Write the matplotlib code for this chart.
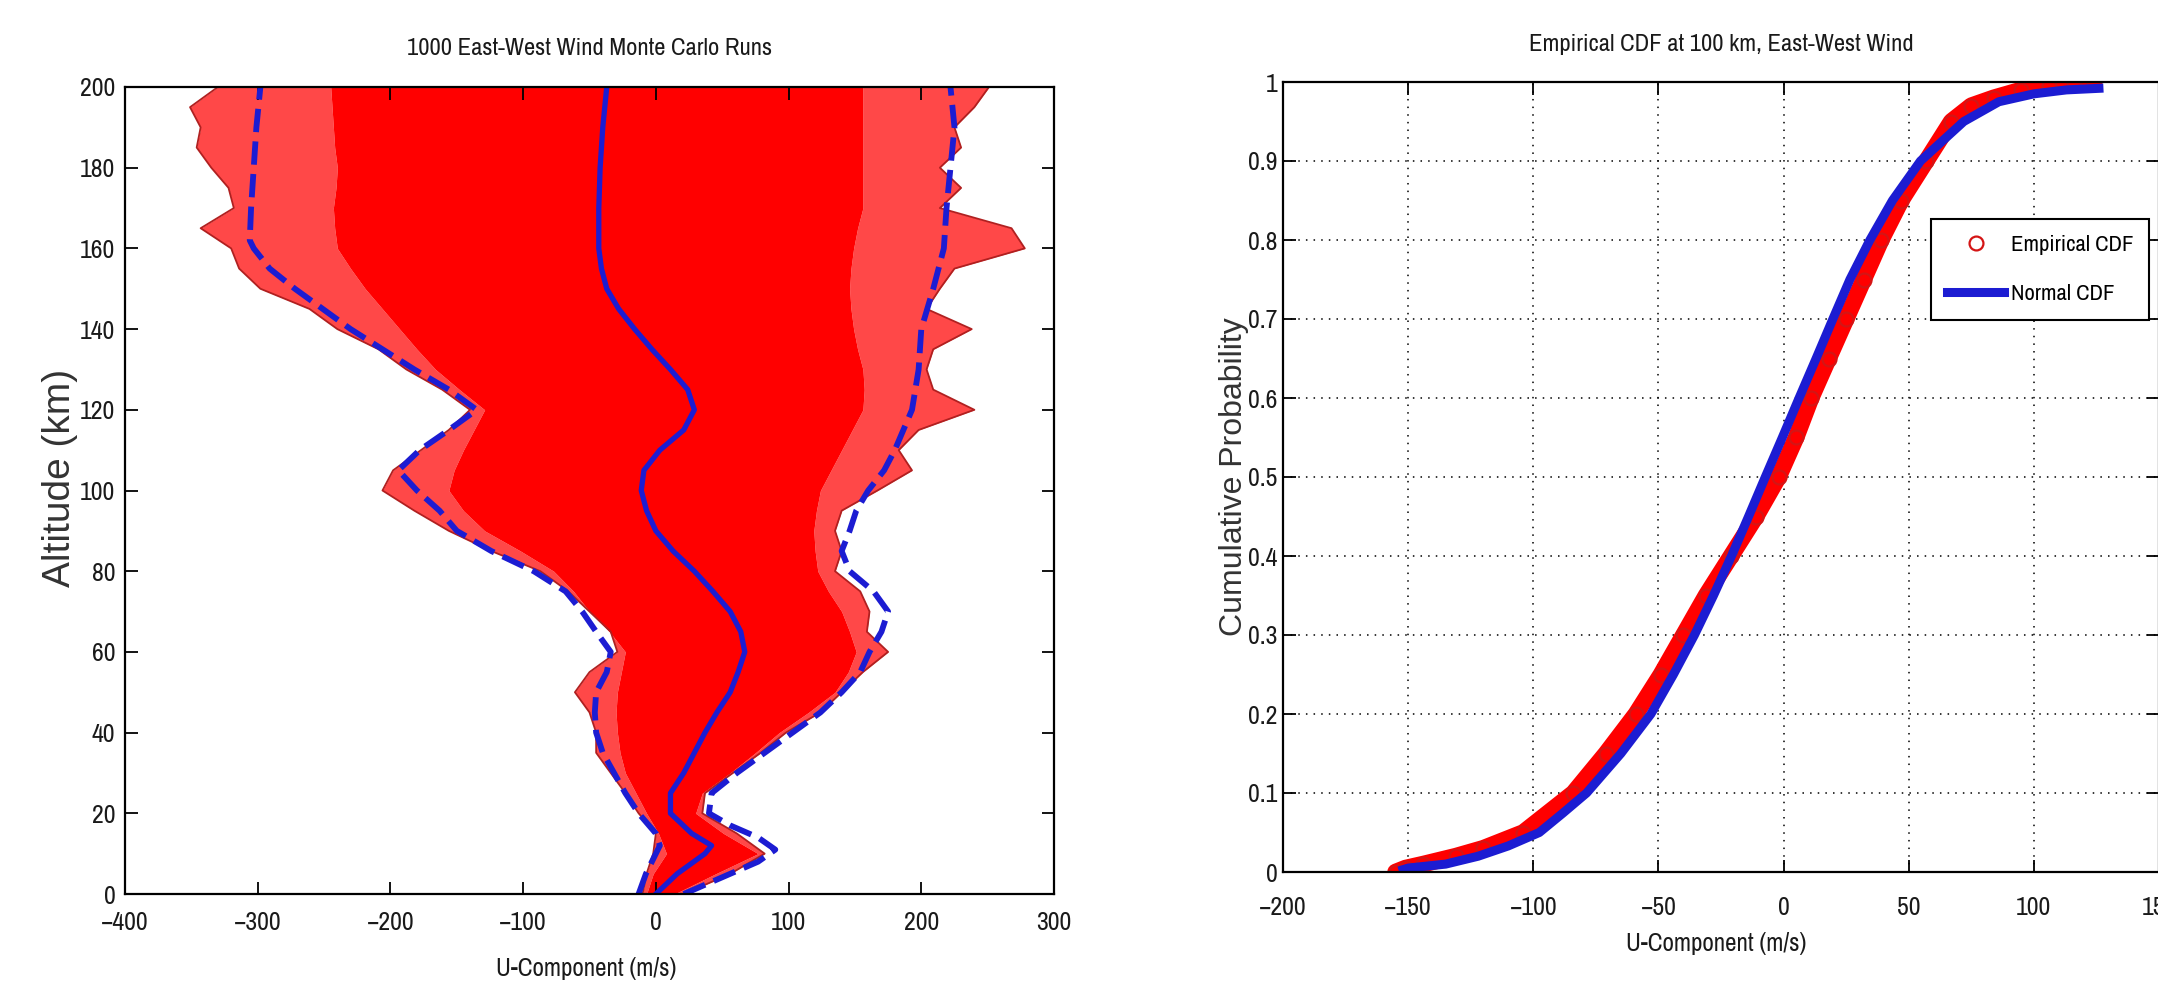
import numpy as np
import matplotlib.pyplot as plt
from matplotlib import font_manager as fm
from matplotlib.lines import Line2D

# pick a narrow sans face if one is installed (the reference uses a condensed Helvetica)
fonts = fm.fontManager.ttflist
narrow = [f.name for f in fonts if "Narrow" in f.name or "Condensed" in f.name]
cond = [f.name for f in fonts if str(f.stretch) in ("condensed", "semi-condensed")]
if narrow:
    NARROW, STRETCH = [narrow[0], "DejaVu Sans"], "normal"
elif cond:
    NARROW, STRETCH = [cond[0], "DejaVu Sans"], "condensed"
else:
    NARROW, STRETCH = ["Liberation Sans", "DejaVu Sans"], "normal"
WIDE = ["Liberation Sans", "DejaVu Sans"]
plt.rcParams["font.family"] = NARROW
plt.rcParams["font.stretch"] = STRETCH

# ---- left panel: 1000 Monte Carlo wind profiles ----
alt_env = np.arange(0, 205, 5)
ext_lo = [-10, -7, -2, 0, -13, -23, -34, -45, -45, -50, -61, -50, -29, -34, -50, -66, -87,
          -124, -156, -182, -206, -198, -177, -156, -140, -161, -188, -209, -240, -261, -298,
          -314, -320, -343, -318, -322, -335, -346, -343, -351, -330]
core_lo = [-7, -2, 8, 2, -7, -15, -23, -27, -29, -30, -29, -26, -23, -35, -50, -62, -77,
           -102, -129, -145, -156, -152, -145, -137, -129, -148, -166, -180, -193, -206, -219,
           -230, -240, -242, -243, -241, -240, -242, -243, -244, -245]
core_hi = [14, 45, 77, 51, 30, 35, 56, 75, 93, 115, 135, 145, 151, 146, 140, 130, 122,
           120, 119, 121, 124, 132, 140, 148, 156, 157, 156, 152, 149, 147, 146, 147, 149,
           152, 156, 156, 156, 156, 156, 156, 156]
ext_hi = [21, 56, 82, 61, 35, 37, 58, 79, 98, 124, 140, 156, 175, 159, 161, 154, 135,
          140, 135, 140, 167, 193, 183, 198, 240, 209, 204, 209, 238, 204, 214, 225, 278,
          268, 214, 230, 214, 230, 225, 240, 251]

mean_alt = [0, 5, 10, 12, 15, 20, 25, 30, 35, 40, 45, 50, 55, 60, 65, 70, 75, 80, 85, 90,
            95, 100, 105, 110, 115, 120, 125, 130, 135, 140, 145, 150, 155, 160, 170, 180,
            190, 200]
mean_u = [0, 16, 37, 42, 27, 11, 11, 21, 29, 37, 46, 56, 62, 67, 64, 56, 43, 29, 13, 0,
          -7, -11, -9, 3, 21, 29, 24, 11, -3, -16, -28, -37, -41, -43, -43, -42, -40, -37]

lo_alt = [0, 5, 10, 12, 15, 20, 25, 30, 35, 40, 45, 50, 55, 60, 65, 70, 75, 80, 85, 90,
          95, 100, 105, 110, 115, 120, 125, 130, 140, 150, 155, 160, 162, 170, 180, 190, 200]
lo_u = [-13, -7.5, 0, 3, 0, -13, -23, -31.5, -40, -45, -46, -45, -37, -34, -45, -55.5, -68,
        -92, -124, -150, -163, -180, -194, -178, -156, -135, -156, -182, -230, -272, -291,
        -303, -306, -305, -303, -301, -298]

hi_alt = [0, 2, 5, 8, 11, 14, 17, 20, 25, 30, 35, 40, 45, 50, 55, 60, 65, 70, 75, 80, 85,
          90, 95, 100, 105, 110, 120, 130, 140, 150, 160, 170, 180, 190, 200]
hi_u = [21, 35, 56, 77, 90, 77, 56, 40, 42, 61, 82, 103, 124, 140, 154, 161, 170, 175, 164,
        146, 140, 146, 151, 160, 172, 180, 193, 198, 200, 209, 217, 219, 222, 225, 222]

# ---- right panel: CDF at 100 km ----
emp_u = [-155, -151, -144, -131, -120, -104, -84, -71, -59, -49, -40, -31, -21, -11, -2,
         5, 11, 18, 25, 32, 39, 47, 57, 67, 75, 84, 95, 106, 116, 124]
emp_p = [0.0, 0.005, 0.01, 0.02, 0.03, 0.05, 0.1, 0.15, 0.2, 0.25, 0.3, 0.35, 0.4, 0.45,
         0.5, 0.55, 0.6, 0.65, 0.7, 0.75, 0.8, 0.85, 0.9, 0.95, 0.97, 0.98, 0.99, 0.995,
         1.0, 1.0]
norm_u = [-152, -150, -135, -122, -110, -97.6, -88, -78.7, -65, -53, -44, -35.6, -28, -20.8,
          -14, -7.3, -0.5, 6.2, 13, 19.7, 26.5, 34.5, 43.5, 54.7, 72, 86, 100, 113, 126]
norm_p = [0.003, 0.005, 0.01, 0.02, 0.033, 0.05, 0.075, 0.1, 0.15, 0.2, 0.25, 0.3, 0.35, 0.4,
          0.45, 0.5, 0.55, 0.6, 0.65, 0.7, 0.75, 0.8, 0.85, 0.9, 0.95, 0.975, 0.985, 0.99,
          0.992]

left_xticks = [-400, -300, -200, -100, 0, 100, 200, 300]
left_yticks = [0, 20, 40, 60, 80, 100, 120, 140, 160, 180, 200]
right_xticks = [-200, -150, -100, -50, 0, 50, 100, 150]
right_yticks = [0, 0.1, 0.2, 0.3, 0.4, 0.5, 0.6, 0.7, 0.8, 0.9, 1]
right_ylabels = ["0", "0.1", "0.2", "0.3", "0.4", "0.5", "0.6", "0.7", "0.8", "0.9", "1"]

BLUE = "#1c1cd2"
TXT = "#1a1a1a"
W, H = 2158, 982

fig = plt.figure(figsize=(W / 100, H / 100), dpi=100)
ax1 = fig.add_axes([125 / W, 1 - 894 / H, 929 / W, 807 / H])
ax2 = fig.add_axes([1283 / W, 1 - 872 / H, 876 / W, 790 / H])

# scale the narrow font so the title is about as wide as in the reference
probe = fig.text(0, 0, "1000 East-West Wind Monte Carlo Runs", fontsize=17)
tw = probe.get_window_extent(fig.canvas.get_renderer()).width
probe.remove()
FS = min(19, 17 * 365 / tw)


def style_axes(ax):
    for s in ax.spines.values():
        s.set_linewidth(1.6)
        s.set_color("black")
    ax.tick_params(direction="in", length=9, width=1.3, top=True, right=True,
                   labelsize=FS * 1.05, labelcolor=TXT)
    ax.tick_params(axis="x", pad=12)
    ax.tick_params(axis="y", pad=7)


# left panel
ax1.fill_betweenx(alt_env, ext_lo, core_lo, color="#ff1a1a", alpha=0.8, lw=0)
ax1.fill_betweenx(alt_env, core_hi, ext_hi, color="#ff1a1a", alpha=0.8, lw=0)
ax1.fill_betweenx(alt_env, core_lo, core_hi, color="#ff0000", lw=0)
ax1.plot(ext_lo, alt_env, color="#b02020", lw=1.3)
ax1.plot(ext_hi, alt_env, color="#b02020", lw=1.3)
ax1.plot(lo_u, lo_alt, color=BLUE, lw=4.2, ls=(0, (4, 1.6)))
ax1.plot(hi_u, hi_alt, color=BLUE, lw=4.2, ls=(0, (4, 1.6)))
ax1.plot(mean_u, mean_alt, color=BLUE, lw=3.8)
ax1.set_xlim(-400, 300)
ax1.set_ylim(0, 200)
ax1.set_xticks(left_xticks)
ax1.set_yticks(left_yticks)
style_axes(ax1)
ax1.set_title("1000 East-West Wind Monte Carlo Runs", fontsize=FS, color=TXT,
              y=1.048, va="center", pad=0)
ax1.set_xlabel("U-Component (m/s)", fontsize=FS * 1.02, color=TXT)
ax1.xaxis.set_label_coords(0.496, -0.0917)
ax1.xaxis.label.set_va("center")
ax1.set_ylabel("Altitude (km)", fontsize=28, color="#333333", family=WIDE,
               fontstretch="normal")
ax1.yaxis.set_label_coords(-0.07, 0.515)
ax1.yaxis.label.set_va("center")

# right panel
ax2.grid(True, color="black", ls=(0, (1, 4)), lw=1.1)
ax2.set_axisbelow(True)
ax2.plot(emp_u, emp_p, color="#ff0000", lw=12, solid_capstyle="round")
ax2.plot(emp_u, emp_p, "o", mfc="none", mec="#d41515", ms=10, mew=1.6)
ax2.plot(norm_u, norm_p, color=BLUE, lw=6.5)
ax2.set_xlim(-200, 150)
ax2.set_ylim(0, 1)
ax2.set_xticks(right_xticks)
ax2.set_yticks(right_yticks)
ax2.set_yticklabels(right_ylabels)
style_axes(ax2)
ax2.tick_params(axis="y", pad=4)
ax2.tick_params(axis="x", pad=17)
ax2.set_title("Empirical CDF at 100 km, East-West Wind", fontsize=FS, color=TXT,
              y=1.048, va="center", pad=0)
ax2.set_xlabel("U-Component (m/s)", fontsize=FS * 1.02, color=TXT)
ax2.xaxis.set_label_coords(0.495, -0.0899)
ax2.xaxis.label.set_va("center")
ax2.set_ylabel("Cumulative Probability", fontsize=23, color="#333333", family=WIDE,
               fontstretch="normal")
ax2.yaxis.set_label_coords(-0.056, 0.501)
ax2.yaxis.label.set_va("center")

handles = [
    Line2D([], [], ls="none", marker="o", mfc="none", mec="#d41515", ms=10, mew=1.6),
    Line2D([], [], color=BLUE, lw=6.5),
]
leg = ax2.legend(handles, ["Empirical CDF", "Normal CDF"], loc="upper right",
                 bbox_to_anchor=(0.9886, 0.8266), fontsize=FS * 0.92, fancybox=False,
                 framealpha=1, edgecolor="black", borderpad=0.7, labelspacing=1.3,
                 handlelength=2.5, handletextpad=0.3, borderaxespad=0)
leg.get_frame().set_linewidth(1.5)

fig.savefig("out.png", dpi=100)
